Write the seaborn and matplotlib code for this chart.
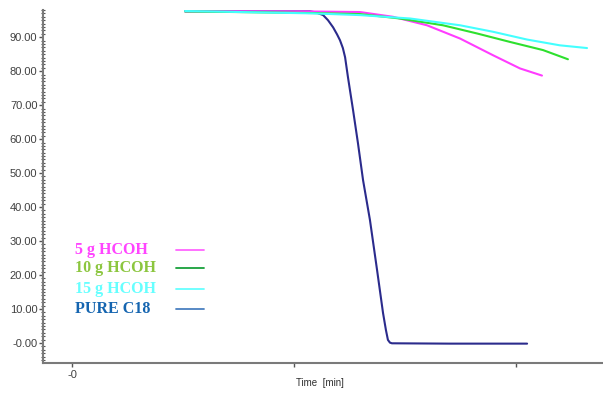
import numpy as np
import pandas as pd
import matplotlib
matplotlib.use("Agg")
import matplotlib.pyplot as plt
import seaborn as sns
from matplotlib.ticker import MultipleLocator, FixedLocator
from matplotlib.lines import Line2D

# ---- data (time in arbitrary chart units, value in %) ----
t_5g = [5.09, 10.27, 12.97, 14.46, 15.99, 17.48, 18.96, 20.18, 21.17]
v_5g = [97.6, 97.6, 97.4, 96.0, 93.5, 89.6, 84.7, 80.8, 78.7]

t_10g = [5.09, 10.86, 12.97, 14.77, 16.71, 18.24, 19.73, 21.22, 22.34]
v_10g = [97.6, 97.1, 96.8, 95.5, 93.5, 91.1, 88.6, 86.2, 83.5]

t_15g = [5.09, 10.86, 12.97, 15.23, 17.48, 18.96, 20.50, 21.98, 23.20]
v_15g = [97.7, 97.0, 96.5, 95.5, 93.5, 91.6, 89.3, 87.6, 86.8]

t_pure = [5.09, 10.72, 10.99, 11.31, 11.53, 11.76, 11.94, 12.07, 12.20, 12.30,
          12.43, 12.66, 12.88, 13.11, 13.42, 13.74, 14.01, 14.14, 14.23, 14.32,
          14.41, 17.0, 20.5]
v_pure = [97.6, 97.6, 97.3, 96.5, 95.0, 92.9, 90.8, 89.1, 86.8, 84.1,
          78.2, 68.5, 58.8, 47.9, 36.2, 21.5, 8.8, 3.8, 0.9, 0.1,
          -0.1, -0.2, -0.2]

series_names = ["PURE C18", "5 g HCOH", "10 g HCOH", "15 g HCOH"]
legend_order = ["5 g HCOH", "10 g HCOH", "15 g HCOH", "PURE C18"]
line_colors = {"5 g HCOH": "#ff3cff", "10 g HCOH": "#2ee02e",
               "15 g HCOH": "#44ffff", "PURE C18": "#2b2b8c"}
legend_text_colors = ["#ff44ff", "#8cc63f", "#66ffff", "#1565b0"]
legend_line_colors = ["#ff66ff", "#18a03a", "#66ffff", "#4a80c0"]

x_ticks = [0, 10, 20]
x_ticklabels = ["-0", "", ""]
y_ticks = [0, 10, 20, 30, 40, 50, 60, 70, 80, 90]
y_ticklabels = ["-0.00", "10.00", "20.00", "30.00", "40.00", "50.00",
                "60.00", "70.00", "80.00", "90.00"]

frames = []
for name, t, v in [("PURE C18", t_pure, v_pure), ("5 g HCOH", t_5g, v_5g),
                   ("10 g HCOH", t_10g, v_10g), ("15 g HCOH", t_15g, v_15g)]:
    frames.append(pd.DataFrame({"time": t, "value": v, "series": name}))
df = pd.concat(frames, ignore_index=True)

sns.set_style("white")
plt.rcParams["font.family"] = ["Liberation Sans", "DejaVu Sans"]

fig = plt.figure(figsize=(6.03, 3.93), dpi=100)
ax = fig.add_axes([43 / 603, 30 / 393, 560 / 603, 353 / 393])

sns.lineplot(data=df, x="time", y="value", hue="series", hue_order=series_names,
             palette=line_colors, sort=False, estimator=None, linewidth=1.5,
             legend=False, ax=ax)

ax.set_xlim(-1.31, 23.92)
ax.set_ylim(-5.9, 98.0)

ax.xaxis.set_major_locator(FixedLocator(x_ticks))
ax.set_xticklabels(x_ticklabels)
ax.yaxis.set_major_locator(FixedLocator(y_ticks))
ax.set_yticklabels(y_ticklabels)
ax.yaxis.set_minor_locator(MultipleLocator(1))

for s in ["top", "right"]:
    ax.spines[s].set_visible(False)
for s in ["left", "bottom"]:
    ax.spines[s].set_color("#7a7a7a")
    ax.spines[s].set_linewidth(1.5)

ax.tick_params(axis="y", which="major", direction="out", length=3, width=1,
               color="#555555", labelsize=8, labelcolor="#404040", pad=1, left=True)
ax.tick_params(axis="y", which="minor", direction="inout", length=3, width=0.8,
               color="#555555", left=True)
ax.tick_params(axis="x", which="major", direction="out", length=3, width=1,
               color="#555555", labelsize=8, labelcolor="#404040", pad=2, bottom=True)

ax.set_xlabel("Time  [min]", fontsize=7, color="#303030")
ax.xaxis.set_label_coords((320 - 43) / 560, (363 - 383) / 353)
ax.xaxis.label.set_va("center")
ax.set_ylabel("")

# ---- custom legend: text left, sample line right ----
row_y = [250, 268, 289, 309]
for name, ty, tc, lc in zip(legend_order, row_y, legend_text_colors, legend_line_colors):
    yax = (363 - ty) / 353
    ax.text((75 - 43) / 560, yax, name, transform=ax.transAxes,
            family=["Liberation Serif"], fontweight="bold", fontsize=11.5,
            color=tc, va="center", ha="left")
    ax.add_line(Line2D([(176 - 43) / 560, (204 - 43) / 560], [yax, yax],
                       transform=ax.transAxes, color=lc, linewidth=1.3))

fig.savefig("out.png", dpi=100)
